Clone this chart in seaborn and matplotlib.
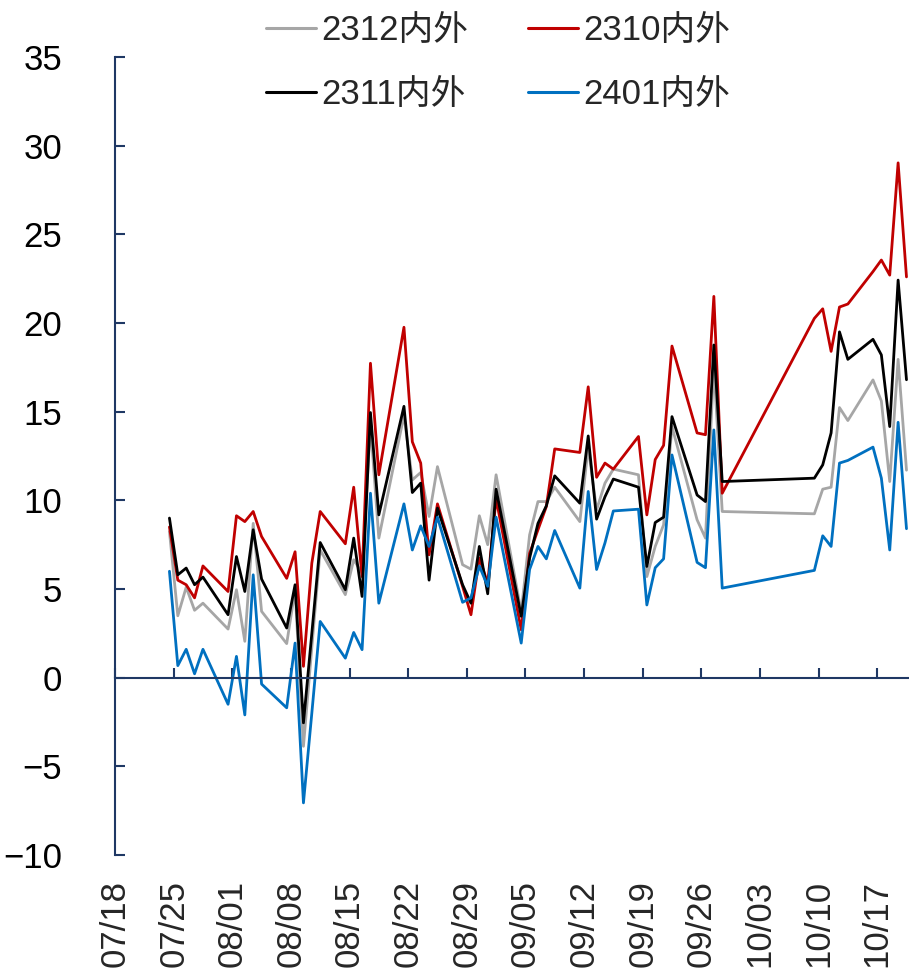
import matplotlib
matplotlib.use("Agg")
import matplotlib.pyplot as plt
import matplotlib.dates as mdates
from matplotlib.lines import Line2D
import seaborn as sns
import pandas as pd
import numpy as np

dates = [
    "2023-07-24", "2023-07-25", "2023-07-26", "2023-07-27", "2023-07-28",
    "2023-07-31", "2023-08-01", "2023-08-02", "2023-08-03", "2023-08-04",
    "2023-08-07", "2023-08-08", "2023-08-09", "2023-08-10", "2023-08-11",
    "2023-08-14", "2023-08-15", "2023-08-16", "2023-08-17", "2023-08-18",
    "2023-08-21", "2023-08-22", "2023-08-23", "2023-08-24", "2023-08-25",
    "2023-08-28", "2023-08-29", "2023-08-30", "2023-08-31", "2023-09-01",
    "2023-09-04", "2023-09-05", "2023-09-06", "2023-09-07", "2023-09-08",
    "2023-09-11", "2023-09-12", "2023-09-13", "2023-09-14", "2023-09-15",
    "2023-09-18", "2023-09-19", "2023-09-20", "2023-09-21", "2023-09-22",
    "2023-09-25", "2023-09-26", "2023-09-27", "2023-09-28",
    "2023-10-09", "2023-10-10", "2023-10-11", "2023-10-12", "2023-10-13",
    "2023-10-16", "2023-10-17", "2023-10-18", "2023-10-19", "2023-10-20",
]

s2312 = [8.24, 3.49, 5.1, 3.8, 4.2,
         2.74, 4.96, 2.05, 8.7, 3.74,
         1.92, 4.96, -3.87, 1.7, 7.2,
         4.68, 6.65, 5.9, 14.3, 7.87,
         14.8, 11.15, 11.57, 9.09, 11.9,
         6.37, 6.12, 9.13, 7.5, 11.44,
         3.7, 8.05, 9.93, 9.93, 10.74,
         8.8, 13.0, 9.46, 10.97, 11.76,
         11.44, 5.7, 7.4, 8.62, 14.16,
         8.9, 7.87, 17.6, 9.37,
         9.24, 10.63, 10.74, 15.23, 14.5,
         16.79, 15.6, 11.06, 17.95, 11.7]

s2310 = [8.5, 5.5, 5.24, 4.5, 6.3,
         4.86, 9.13, 8.8, 9.37, 7.96,
         5.6, 7.1, 0.64, 6.46, 9.37,
         7.55, 10.74, 5.7, 17.73, 11.44,
         19.76, 13.3, 12.1, 6.93, 9.8,
         5.15, 3.55, 6.74, 5.33, 10.1,
         2.7, 7.0, 8.34, 9.65, 12.9,
         12.7, 16.4, 11.3, 12.1, 11.76,
         13.6, 9.18, 12.3, 13.1, 18.7,
         13.8, 13.7, 21.5, 10.4,
         20.26, 20.8, 18.4, 20.9, 21.07,
         22.9, 23.55, 22.7, 29.03, 22.6]

s2311 = [9.0, 5.8, 6.18, 5.24, 5.67,
         3.55, 6.83, 4.86, 8.34, 5.56,
         2.8, 5.24, -2.55, 2.5, 7.62,
         4.96, 7.87, 4.58, 14.95, 9.18,
         15.3, 10.44, 10.97, 5.5, 9.56,
         5.24, 4.2, 7.4, 4.73, 10.63,
         3.46, 6.74, 8.7, 9.69, 11.38,
         9.84, 13.63, 8.94, 10.2, 11.2,
         10.74, 6.27, 8.75, 9.05, 14.72,
         10.3, 9.93, 18.76, 11.06,
         11.25, 12.0, 13.8, 19.5, 17.95,
         19.08, 18.2, 14.16, 22.42, 16.8]

s2401 = [6.0, 0.68, 1.6, 0.22, 1.6,
         -1.5, 1.2, -2.1, 5.8, -0.36,
         -1.7, 1.95, -7.06, -2.0, 3.17,
         1.1, 2.55, 1.58, 10.4, 4.2,
         9.8, 7.2, 8.56, 7.4, 9.05,
         4.25, 4.5, 6.3, 5.15, 9.05,
         1.95, 6.1, 7.4, 6.7, 8.3,
         5.05, 10.5, 6.1, 7.6, 9.4,
         9.5, 4.1, 6.2, 6.7, 12.56,
         6.5, 6.2, 13.97, 5.05,
         6.05, 8.0, 7.4, 12.1, 12.25,
         13.0, 11.25, 7.2, 14.4, 8.4]

series_names = ["2312内外", "2310内外", "2311内外", "2401内外"]
series_values = [s2312, s2310, s2311, s2401]
colors = {"2312内外": "#A6A6A6", "2310内外": "#C00000",
          "2311内外": "#000000", "2401内外": "#0070C0"}

tick_dates = pd.date_range("2023-07-18", "2023-10-17", freq="7D")
y_ticks = [-10, -5, 0, 5, 10, 15, 20, 25, 30, 35]

# long-form table; daily points plotted at mid-day (date-axis slot centre)
x = pd.to_datetime(dates) + pd.Timedelta(hours=12)
frames = [pd.DataFrame({"date": x, "value": v, "series": n})
          for n, v in zip(series_names, series_values)]
df = pd.concat(frames, ignore_index=True)

sns.set_theme(style="white")
plt.rcParams["font.family"] = ["Liberation Sans", "Noto Sans CJK SC", "DejaVu Sans"]
plt.rcParams["axes.unicode_minus"] = True

navy = "#1F3864"
fig = plt.figure(figsize=(9.09, 9.74), dpi=100)
fig.patch.set_facecolor("white")
ax = fig.add_axes([115 / 909, 1 - 855 / 974, 1 - 115 / 909, (855 - 57) / 974])
ax.set_facecolor("none")

sns.lineplot(data=df, x="date", y="value", hue="series", hue_order=series_names,
             palette=colors, linewidth=2.0, ax=ax, legend=False, sort=False)

ax.set_ylim(-10, 35)
ax.set_xlim(pd.Timestamp("2023-07-18"), pd.Timestamp("2023-07-18") + pd.Timedelta(days=94.8))
ax.set_yticks(y_ticks)
ax.set_xlabel("")
ax.set_ylabel("")

for side in ["top", "right"]:
    ax.spines[side].set_visible(False)
ax.spines["left"].set_color(navy)
ax.spines["left"].set_linewidth(1.5)
ax.spines["bottom"].set_position(("data", 0))
ax.spines["bottom"].set_color(navy)
ax.spines["bottom"].set_linewidth(1.5)

ax.tick_params(axis="y", direction="in", length=7, width=1.5, color=navy,
               labelsize=25, pad=38, labelcolor="black", left=True)
ax.set_xticks(tick_dates)
ax.tick_params(axis="x", direction="in", length=7, width=1.5, color=navy,
               labelbottom=False, bottom=True)

sec = ax.secondary_xaxis("bottom")
sec.xaxis.set_major_locator(matplotlib.ticker.FixedLocator(mdates.date2num(tick_dates)))
sec.xaxis.set_major_formatter(mdates.DateFormatter("%m/%d"))
sec.spines["bottom"].set_visible(False)
sec.tick_params(axis="x", length=0, labelsize=25, pad=18, labelrotation=90)

handles = [Line2D([], [], color=colors[n], linewidth=2.2) for n in series_names]
# order so rows read: 2312, 2310 / 2311, 2401
order = [0, 2, 1, 3]
fig.legend([handles[i] for i in order], [series_names[i] for i in order],
           loc="center", bbox_to_anchor=(0.548, 0.9355), ncol=2, frameon=False,
           fontsize=25, handlelength=1.45, handletextpad=0.15,
           columnspacing=1.7, labelspacing=0.9, borderpad=0)

fig.savefig("out.png", dpi=100, facecolor="white")
